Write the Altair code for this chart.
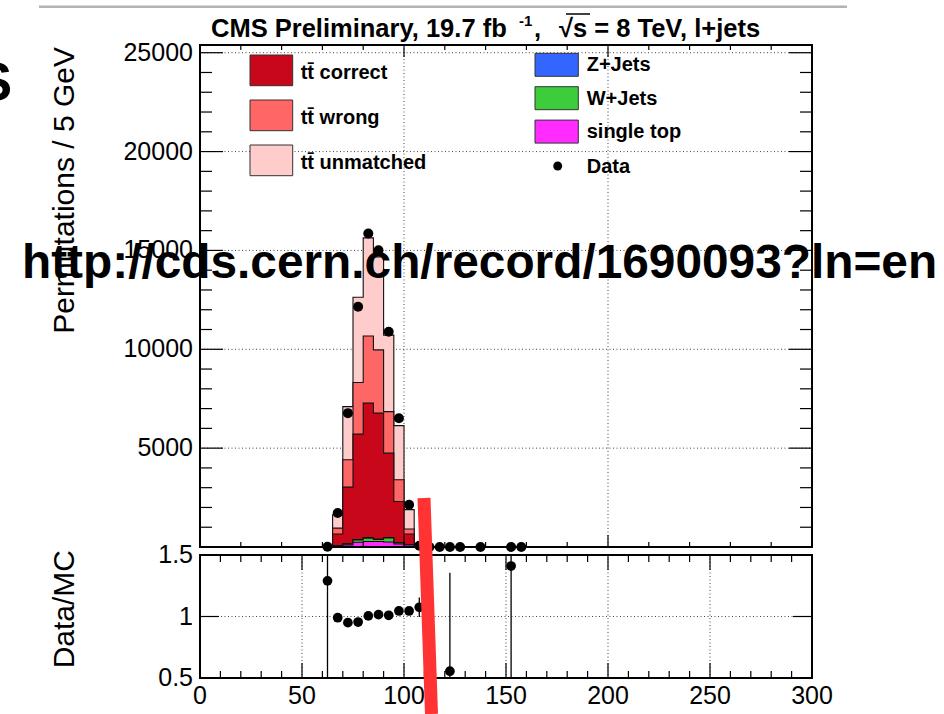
import altair as alt
import pandas as pd

# ---------------- values ----------------
# 5 GeV bins (lower edges) that carry simulated events
bin_lo = [60, 65, 70, 75, 80, 85, 90, 95, 100, 105, 110]
BIN_W = 5

tt_correct   = [3, 580, 2860, 5330, 6800, 6370, 4270, 2080, 530, 20, 1]
tt_wrong     = [1, 300, 1380, 2610, 3400, 3200, 2100, 1100, 250, 10, 0.5]
tt_unmatched = [3, 670, 2690, 4310, 4960, 4700, 3870, 2740, 980, 26, 1]
z_jets       = [0.1, 5, 10, 20, 25, 20, 18, 10, 5, 0.3, 0.1]
w_jets       = [0.3, 20, 50, 120, 170, 100, 210, 60, 25, 1, 0.2]
single_top   = [0.5, 50, 110, 240, 280, 280, 250, 150, 100, 3, 0.5]

# observed permutations (bin centres)
data_x = [62.5, 67.5, 72.5, 77.5, 82.5, 87.5, 92.5, 97.5, 102.5, 107.5,
          112.5, 117.5, 122.5, 127.5, 137.5, 152.5, 157.5]
data_y = [9, 1720, 6770, 12150, 15860, 15010, 10890, 6510, 2140, 60,
          3, 1, 1, 1, 1, 1, 1]

# data / MC ratio with its uncertainty
ratio_x   = [62.5, 67.5, 72.5, 77.5, 82.5, 87.5, 92.5, 97.5, 102.5, 107.5, 122.5, 152.5]
ratio_y   = [1.29, 0.99, 0.95, 0.955, 1.005, 1.015, 1.01, 1.045, 1.045, 1.075, 0.555, 1.41]
ratio_err = [0.9, 0.012, 0.01, 0.008, 0.007, 0.007, 0.008, 0.01, 0.02, 0.08, 0.8, 1.4]

top_y_labels = [5000, 10000, 15000, 20000, 25000]
ratio_labels = [0.5, 1, 1.5]
ratio_label_text = ["0.5", "1", "1.5"]
x_labels = [0, 50, 100, 150, 200, 250, 300]

# ---------------- styling ----------------
FONT = "Liberation Sans"
C_CORRECT = "#c8081a"
C_WRONG = "#ff6666"
C_UNM = "#ffcccc"
C_Z = "#3366ff"
C_W = "#3ccc3c"
C_ST = "#ff2bff"

W, H_TOP, GAP, H_RAT = 612, 502, 8, 123
H = H_TOP + GAP + H_RAT
R0 = H_TOP + GAP

XS = alt.Scale(domain=[0, 300], nice=False, zero=False)
YT = alt.Scale(domain=[0, 25390], range=[H_TOP, 0], nice=False, zero=False)
YR = alt.Scale(domain=[0.5, 1.5], range=[H, R0], nice=False, zero=False, clamp=True)

ONE = pd.DataFrame({"k": [0]})


def txt(s, x, y, size, bold=False, align="left", baseline="alphabetic", color="black", angle=0):
    return alt.Chart(ONE).mark_text(
        text=s, font=FONT, fontSize=size, fontWeight="bold" if bold else "normal",
        align=align, baseline=baseline, color=color, angle=angle
    ).encode(x=alt.value(x), y=alt.value(y))


def seg(x1, y1, x2, y2, color, width, dash=None, cap="butt"):
    kw = dict(color=color, strokeWidth=width, strokeCap=cap)
    if dash:
        kw["strokeDash"] = dash
    return alt.Chart(ONE).mark_rule(**kw).encode(
        x=alt.value(x1), y=alt.value(y1), x2=alt.value(x2), y2=alt.value(y2))


def box(x1, y1, x2, y2, fill, stroke="#333333", sw=1.0, opacity=1.0):
    return alt.Chart(ONE).mark_rect(
        color=fill, fillOpacity=opacity, stroke=stroke, strokeWidth=sw
    ).encode(x=alt.value(x1), x2=alt.value(x2), y=alt.value(y1), y2=alt.value(y2))


def xrules(vals, y0, y1, dash=None, color="black", width=1.2):
    kw = dict(color=color, strokeWidth=width)
    if dash:
        kw["strokeDash"] = dash
    return alt.Chart(pd.DataFrame({"v": vals})).mark_rule(**kw).encode(
        x=alt.X("v:Q", scale=XS, axis=None), y=alt.value(y0), y2=alt.value(y1))


def yrules(vals, scale, x0, x1, dash=None, color="black", width=1.2):
    kw = dict(color=color, strokeWidth=width)
    if dash:
        kw["strokeDash"] = dash
    return alt.Chart(pd.DataFrame({"v": vals})).mark_rule(**kw).encode(
        y=alt.Y("v:Q", scale=scale, axis=None), x=alt.value(x0), x2=alt.value(x1))


def ylabels(vals, texts, scale):
    df = pd.DataFrame({"v": vals, "t": texts})
    return alt.Chart(df).mark_text(
        font=FONT, fontSize=25, align="right", baseline="middle", color="black"
    ).encode(y=alt.Y("v:Q", scale=scale, axis=None), x=alt.value(-7), text="t:N")


DOT = [1, 2.5]
GRID_C = "#444444"

# ---------------- upper panel ----------------
top_layers = []

# dotted grid
top_layers.append(xrules([100, 200], 0, H_TOP, dash=DOT, color=GRID_C, width=1))
top_layers.append(yrules(top_y_labels, YT, 0, W, dash=DOT, color=GRID_C, width=1))

# stacked simulation, drawn from the full sum down to the lowest component
stack_parts = [
    (single_top, C_ST),
    (w_jets, C_W),
    (z_jets, C_Z),
    (tt_correct, C_CORRECT),
    (tt_wrong, C_WRONG),
    (tt_unmatched, C_UNM),
]
levels = []
run = [0.0] * len(bin_lo)
for vals, col in stack_parts:
    run = [a + b for a, b in zip(run, vals)]
    levels.append((list(run), col))
levels.reverse()

for cum, col in levels:
    edge_hi = bin_lo[-1] + BIN_W
    area_df = pd.DataFrame({"x": bin_lo + [edge_hi], "y": cum + [cum[-1]]})
    xs = [bin_lo[0]] + bin_lo + [edge_hi, edge_hi]
    ys = [0] + cum + [cum[-1], 0]
    line_df = pd.DataFrame({"x": xs, "y": ys, "i": list(range(len(xs)))})
    top_layers.append(
        alt.Chart(area_df).mark_area(interpolate="step-after", color=col, opacity=1).encode(
            x=alt.X("x:Q", scale=XS, axis=None),
            y=alt.Y("y:Q", scale=YT, stack=None, axis=None),
            y2=alt.datum(0),
        )
    )
    top_layers.append(
        alt.Chart(line_df).mark_line(interpolate="step-after", color="#111111", strokeWidth=1.1).encode(
            x=alt.X("x:Q", scale=XS, axis=None),
            y=alt.Y("y:Q", scale=YT, axis=None),
            order=alt.Order("i:Q"),
        )
    )

# inward ticks, x every 20 (long at 100s) on bottom and top edges
x_minor_top = [v for v in range(20, 300, 20) if v % 100 != 0]
x_major_top = [100, 200]
top_layers += [
    xrules(x_minor_top, H_TOP, H_TOP - 5), xrules(x_major_top, H_TOP, H_TOP - 12),
    xrules(x_minor_top, 0, 5), xrules(x_major_top, 0, 12),
]
# inward ticks, y every 1000 (long at 5000s) on left and right edges
y_minor_top = [v for v in range(1000, 25001, 1000) if v % 5000 != 0]
top_layers += [
    yrules(y_minor_top, YT, 0, 12), yrules(top_y_labels, YT, 0, 23),
    yrules(y_minor_top, YT, W, W - 12), yrules(top_y_labels, YT, W, W - 23),
]
# frame
top_layers.append(box(0, 0, W, H_TOP, "white", stroke="black", sw=2, opacity=0))

# axis labels and title
top_layers.append(ylabels(top_y_labels, [str(v) for v in top_y_labels], YT))
top_layers.append(txt("Permutations / 5 GeV", -126, 2, 30, align="right", angle=270))

# data points
top_layers.append(
    alt.Chart(pd.DataFrame({"x": data_x, "y": data_y})).mark_circle(size=100, color="black", opacity=1).encode(
        x=alt.X("x:Q", scale=XS, axis=None), y=alt.Y("y:Q", scale=YT, axis=None))
)

# legend, left column
left_entries = [("tt\u0304 correct", C_CORRECT), ("tt\u0304 wrong", C_WRONG), ("tt\u0304 unmatched", C_UNM)]
for i, (lab, col) in enumerate(left_entries):
    y0 = 10 + 45 * i
    top_layers.append(box(50, y0, 92.7, y0 + 30.7, col))
    top_layers.append(txt(lab, 100.7, y0 + 18, 20, bold=True, baseline="middle"))
# legend, right column
right_entries = [("Z+Jets", C_Z), ("W+Jets", C_W), ("single top", C_ST)]
for i, (lab, col) in enumerate(right_entries):
    y0 = 8.3 + 33.4 * i
    top_layers.append(box(335, y0, 378.3, y0 + 23, col))
    top_layers.append(txt(lab, 386.7, y0 + 12, 20, bold=True, baseline="middle"))
top_layers.append(
    alt.Chart(ONE).mark_circle(size=80, color="black", opacity=1).encode(x=alt.value(357.7), y=alt.value(121))
)
top_layers.append(txt("Data", 386.7, 122, 20, bold=True, baseline="middle"))

# header
top_layers.append(seg(-161, -38.3, 647, -38.3, "#b3b3b3", 2.5))
top_layers.append(txt("CMS Preliminary, 19.7 fb", 11, -8, 25.5, bold=True))
top_layers.append(txt("-1", 319, -19, 15, bold=True))
top_layers.append(txt(",", 334, -8, 25.5, bold=True))
top_layers.append(txt("\u221as = 8 TeV, l+jets", 359, -8, 25.5, bold=True))
top_layers.append(seg(366, -31, 390, -31, "black", 1.5))

# slide overlay text
top_layers.append(txt("S", -188, 55, 53, bold=True, align="right"))
top_layers.append(txt("http://cds.cern.ch/record/1690093?ln=en", -178, 233, 47.8, bold=True))

top = alt.layer(*top_layers)

# ---------------- ratio panel ----------------
bot_layers = []
bot_layers.append(xrules([50, 100, 150, 200, 250], R0, H, dash=DOT, color=GRID_C, width=1))
bot_layers.append(yrules([1], YR, 0, W, dash=DOT, color=GRID_C, width=1))

x_minor_bot = [v for v in range(10, 300, 10) if v % 50 != 0]
x_major_bot = [50, 100, 150, 200, 250]
bot_layers += [
    xrules(x_minor_bot, H, H - 7), xrules(x_major_bot, H, H - 15),
    xrules(x_minor_bot, R0, R0 + 7), xrules(x_major_bot, R0, R0 + 15),
    yrules([1], YR, 0, 19), yrules([1], YR, W, W - 19),
]
bot_layers.append(box(0, R0, W, H, "white", stroke="black", sw=2, opacity=0))

# axis labels and title
bot_layers.append(ylabels(ratio_labels, ratio_label_text, YR))
bot_layers.append(
    alt.Chart(pd.DataFrame({"v": x_labels, "t": [str(v) for v in x_labels]})).mark_text(
        font=FONT, fontSize=25, align="center", baseline="top", color="black"
    ).encode(x=alt.X("v:Q", scale=XS, axis=None), y=alt.value(H + 6), text="t:N")
)
bot_layers.append(txt("Data/MC", -126, 505, 30, align="right", angle=270))

ratio_df = pd.DataFrame({
    "x": ratio_x, "r": ratio_y,
    "lo": [r - e for r, e in zip(ratio_y, ratio_err)],
    "hi": [r + e for r, e in zip(ratio_y, ratio_err)],
})
bot_layers.append(
    alt.Chart(ratio_df).mark_rule(color="black", strokeWidth=1.3).encode(
        x=alt.X("x:Q", scale=XS, axis=None),
        y=alt.Y("lo:Q", scale=YR, axis=None), y2="hi:Q")
)
bot_layers.append(
    alt.Chart(ratio_df).mark_circle(size=95, color="black", opacity=1).encode(
        x=alt.X("x:Q", scale=XS, axis=None),
        y=alt.Y("r:Q", scale=YR, axis=None),
    )
)

# red marker stroke across both panels
bot_layers.append(seg(224, 453, 231.5, 669, "#ff3333", 13))

bottom = alt.layer(*bot_layers)

chart = alt.layer(top, bottom).resolve_scale(y="independent").properties(
    width=W, height=H,
    padding={"left": 200, "top": 45, "right": 132, "bottom": 36},
    autosize=alt.AutoSizeParams(type="none"),
    background="white",
).configure_view(stroke="transparent")

chart.save("out.html", embed_options={"renderer": "svg", "actions": False})
